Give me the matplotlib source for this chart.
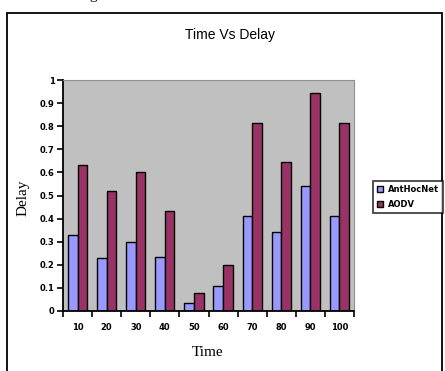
import numpy as np
import matplotlib.pyplot as plt
from matplotlib.patches import Rectangle

# data
times = ["10", "20", "30", "40", "50", "60", "70", "80", "90", "100"]
anthocnet = [0.33, 0.23, 0.30, 0.235, 0.033, 0.107, 0.41, 0.34, 0.54, 0.41]
aodv = [0.63, 0.52, 0.60, 0.435, 0.08, 0.20, 0.815, 0.645, 0.945, 0.815]
y_ticks = [0, 0.1, 0.2, 0.3, 0.4, 0.5, 0.6, 0.7, 0.8, 0.9, 1]
y_labels = ["0", "0.1", "0.2", "0.3", "0.4", "0.5", "0.6", "0.7", "0.8", "0.9", "1"]

fig = plt.figure(figsize=(4.45, 3.71), dpi=100)
fig.patch.set_facecolor("white")

# outer chart border (bottom runs off the image)
fig.patches.append(Rectangle((7 / 445, -0.05), 435 / 445, 1.05 - 13 / 371,
                             transform=fig.transFigure, fill=False,
                             edgecolor="black", linewidth=1.3))
# descender of a cut-off caption glyph at the very top
fig.text(93 / 445, 1 + 1 / 371, "g", fontsize=11, family="Liberation Serif",
         ha="center", va="baseline")

ax = fig.add_axes([63 / 445, 1 - 311 / 371, 291 / 445, 231 / 371])
ax.set_facecolor("#C0C0C0")

x = np.arange(len(times))
w = 0.33
ax.bar(x - w / 2, anthocnet, w, color="#9999FF", edgecolor="black",
       linewidth=1.0, label="AntHocNet")
ax.bar(x + w / 2, aodv, w, color="#993366", edgecolor="black",
       linewidth=1.0, label="AODV")

ax.set_xlim(-0.5, len(times) - 0.5)
ax.set_ylim(0, 1)
ax.set_yticks(y_ticks)
ax.set_yticklabels(y_labels, fontsize=6, fontweight="bold")
ax.set_xticks(x)
ax.set_xticklabels(times, fontsize=6, fontweight="bold")
ax.tick_params(axis="x", length=0, pad=9)
ax.set_xticks(np.arange(-0.5, len(times)), minor=True)
ax.tick_params(axis="x", which="minor", length=4, width=1.2, direction="out")
ax.tick_params(axis="y", length=4, width=1.2, direction="out", pad=2)

for s in ["top", "right"]:
    ax.spines[s].set_color("#909090")
ax.spines["left"].set_linewidth(1.3)
ax.spines["bottom"].set_linewidth(1.3)

fig.text(230 / 445, 1 - 35 / 371, "Time Vs Delay", fontsize=10,
         family="Liberation Sans", ha="center", va="center")
fig.text(23 / 445, 1 - 198 / 371, "Delay", fontsize=11, family="Liberation Serif",
         rotation=90, ha="center", va="center")
fig.text(208 / 445, 1 - 352 / 371, "Time", fontsize=11, family="Liberation Serif",
         ha="center", va="center")

leg = fig.legend(loc="center", bbox_to_anchor=(408 / 445, 1 - 197 / 371),
                 fontsize=6, frameon=True, fancybox=False, edgecolor="black",
                 handlelength=0.7, handleheight=0.7, handletextpad=0.6,
                 borderpad=0.5, labelspacing=0.7)
leg.get_frame().set_linewidth(1.2)
for t in leg.get_texts():
    t.set_fontweight("bold")

fig.savefig("out.png", dpi=100)
